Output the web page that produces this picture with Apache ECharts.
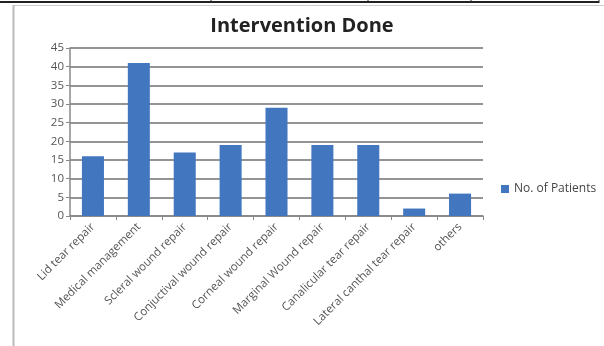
<!DOCTYPE html>
<html>
<head>
<meta charset="utf-8">
<script src="https://cdn.jsdelivr.net/npm/echarts@6/dist/echarts.min.js"></script>
<style>
  html, body { margin: 0; padding: 0; background: #fff; }
  #chart { width: 604px; height: 346px; }
</style>
</head>
<body>
<div id="chart"></div>
<script>
// data
const categories = [
  'Lid tear repair', 'Medical management', 'Scleral wound repair',
  'Conjuctival wound repair', 'Corneal wound repair', 'Marginal Wound repair',
  'Canalicular tear repair', 'Lateral canthal tear repair', 'others'
];
const patients = [16, 41, 17, 19, 29, 19, 19, 2, 6];
const yTicks = [0, 5, 10, 15, 20, 25, 30, 35, 40, 45];

const font = '"Open Sans", "Noto Sans", sans-serif';
const chart = echarts.init(document.getElementById('chart'));

chart.setOption({
  animation: false,
  backgroundColor: '#fff',
  title: {
    text: 'Intervention Done',
    left: 'center',
    top: 11,
    textStyle: { fontFamily: font, fontSize: 20, fontWeight: 'bold', color: '#222' }
  },
  // table edge and frame round the chart
  graphic: [
    { type: 'line', shape: { x1: 0, y1: 2, x2: 599, y2: 2 }, style: { stroke: '#222', lineWidth: 2 } },
    { type: 'line', shape: { x1: 211, y1: 0, x2: 211, y2: 2 }, style: { stroke: '#222', lineWidth: 1 } },
    { type: 'line', shape: { x1: 368, y1: 0, x2: 368, y2: 2 }, style: { stroke: '#222', lineWidth: 1 } },
    { type: 'line', shape: { x1: 471, y1: 0, x2: 471, y2: 2 }, style: { stroke: '#222', lineWidth: 1 } },
    { type: 'line', shape: { x1: 599, y1: 0, x2: 599, y2: 3 }, style: { stroke: '#222', lineWidth: 1 } },
    { type: 'line', shape: { x1: 13, y1: 5.5, x2: 604, y2: 5.5 }, style: { stroke: '#ccc', lineWidth: 1 } },
    { type: 'line', shape: { x1: 13.5, y1: 5, x2: 13.5, y2: 346 }, style: { stroke: '#bbb', lineWidth: 2 } }
  ],
  legend: {
    data: ['No. of Patients'],
    left: 496,
    top: 178,
    orient: 'vertical',
    itemWidth: 8,
    itemHeight: 8,
    itemGap: 4,
    icon: 'rect',
    textStyle: { fontFamily: font, fontSize: 12, color: '#444' }
  },
  grid: { left: 70, right: 121, top: 48, bottom: 130 },
  xAxis: {
    type: 'category',
    data: categories,
    axisLine: { lineStyle: { color: '#888', width: 1.5 } },
    axisTick: { show: true, length: 4, lineStyle: { color: '#888' } },
    axisLabel: {
      interval: 0,
      rotate: 45,
      margin: 9,
      fontFamily: font,
      fontSize: 11.5,
      color: '#555'
    }
  },
  yAxis: {
    type: 'value',
    min: yTicks[0],
    max: yTicks[yTicks.length - 1],
    interval: 5,
    axisLine: { show: true, lineStyle: { color: '#888', width: 1.5 } },
    axisTick: { show: true, length: 4, lineStyle: { color: '#888' } },
    axisLabel: { fontFamily: font, fontSize: 11.5, color: '#555', margin: 6 },
    splitLine: { lineStyle: { color: '#707070', width: 1.5 } }
  },
  series: [{
    name: 'No. of Patients',
    type: 'bar',
    data: patients,
    barWidth: '48%',
    itemStyle: { color: '#4277c0' }
  }]
});
</script>
</body>
</html>
